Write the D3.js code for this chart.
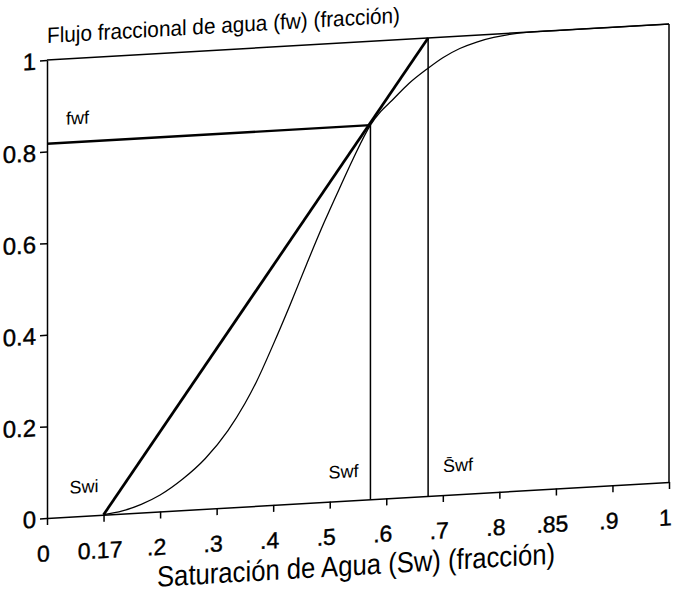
<!DOCTYPE html>
<html>
  <head>
    <meta charset="utf-8">
    <title>Flujo fraccional</title>
<style>
body { margin: 0; background: #fff; }
text { font-family: "Liberation Sans Narrow", "Arial Narrow", "Liberation Sans", sans-serif; fill: #000; }
.axis path, .axis line { stroke: #000; stroke-width: 1.5px; }
.curve { fill: none; stroke: #000; stroke-width: 1.3px; }
.thick { fill: none; stroke: #000; stroke-width: 2.8px; }
.thin { fill: none; stroke: #000; stroke-width: 1.5px; }
</style>
	<script src="https://d3js.org/d3.v7.min.js"></script>
  </head>
  <body>
	<script type="text/javascript">

		// tick values and labels (x axis is evenly spaced, labels are not)
		var xTicks = [0, 0.17, 0.2, 0.3, 0.4, 0.5, 0.6, 0.7, 0.8, 0.85, 0.9, 1];
		var xTickLabels = ["0", "0.17", ".2", ".3", ".4", ".5", ".6", ".7", ".8", ".85", ".9", "1"];
		var yTicks = [0, 0.2, 0.4, 0.6, 0.8, 1];
		var yTickLabels = ["0", "0.2", "0.4", "0.6", "0.8", "1"];

		// fractional flow curve fw(Sw)
		var sw = [0.17, 0.18, 0.19, 0.2, 0.24, 0.28, 0.32, 0.35, 0.37, 0.4, 0.43, 0.46, 0.49, 0.52, 0.54, 0.572, 0.59, 0.61, 0.64, 0.674, 0.7, 0.73, 0.76, 0.79, 0.83, 0.85, 0.9, 1];
		var fw = [0, 0.006, 0.018, 0.036, 0.068, 0.11, 0.168, 0.225, 0.27, 0.35, 0.435, 0.524, 0.61, 0.69, 0.742, 0.817, 0.845, 0.868, 0.903, 0.934, 0.955, 0.973, 0.985, 0.993, 1, 1, 1, 1];

		// Welge tangent points
		var swi = 0.17, swf = 0.572, swfBar = 0.674, fwf = 0.817;

		var W = 678, H = 597;
		var margin = {left: 47, top: 60},
			width = 622,
			height = 458;

		var step = width / (xTicks.length - 1);
		var x = d3.scaleLinear()
			.domain(xTicks)
			.range(xTicks.map(function(d, i) { return i * step; }));
		var y = d3.scaleLinear().domain([0, 1]).range([height, 0]);

		var svg = d3.select("body").append("svg")
			.attr("width", W)
			.attr("height", H);

		// the scanned original is sheared a little, reproduce that
		var g = svg.append("g")
			.attr("transform", "translate(" + margin.left + "," + margin.top + ") skewY(-3.31)");

		// frame: top and right
		g.append("line").attr("class", "thin")
			.attr("x1", x(0)).attr("x2", x(1)).attr("y1", y(1)).attr("y2", y(1));
		g.append("line").attr("class", "thin")
			.attr("x1", x(1)).attr("x2", x(1)).attr("y1", y(0)).attr("y2", y(1));

		// y axis
		g.append("g")
			.attr("class", "axis")
			.call(d3.axisLeft(y)
				.tickValues(yTicks)
				.tickSize(7)
				.tickSizeOuter(0)
				.tickPadding(4)
				.tickFormat(function(d, i) { return yTickLabels[i]; }))
			.call(function(s) {
				s.selectAll("text").style("font-size", "24px").attr("dy", "0.36em")
					.style("stroke", "#000").style("stroke-width", "0.4px");
			});

		// x axis
		g.append("g")
			.attr("class", "axis")
			.attr("transform", "translate(0," + height + ")")
			.call(d3.axisBottom(x)
				.tickValues(xTicks)
				.tickSize(7)
				.tickSizeOuter(0)
				.tickPadding(20)
				.tickFormat(function(d, i) { return xTickLabels[i]; }))
			.call(function(s) {
				s.selectAll("text").style("font-size", "23px").attr("dx", "-4")
					.style("stroke", "#000").style("stroke-width", "0.4px");
			});

		// curve
		var pts = sw.map(function(d, i) { return [d, fw[i]]; });
		g.append("path")
			.datum(pts)
			.attr("class", "curve")
			.attr("d", d3.line()
				.x(function(d) { return x(d[0]); })
				.y(function(d) { return y(d[1]); })
				.curve(d3.curveMonotoneX));

		// tangent line
		g.append("line").attr("class", "thick")
			.attr("x1", x(swi)).attr("y1", y(0))
			.attr("x2", x(swfBar)).attr("y2", y(1));

		// fwf horizontal and the two verticals
		g.append("line").attr("class", "thick").style("stroke-width", "2.4px")
			.attr("x1", x(0)).attr("x2", x(swf)).attr("y1", y(fwf)).attr("y2", y(fwf));
		g.append("line").attr("class", "thin")
			.attr("x1", x(swf)).attr("x2", x(swf)).attr("y1", y(0)).attr("y2", y(fwf));
		g.append("line").attr("class", "thin")
			.attr("x1", x(swfBar)).attr("x2", x(swfBar)).attr("y1", y(0)).attr("y2", y(1));

		// labels
		g.append("text").attr("x", x(swi) - 5).attr("y", y(0.05))
			.style("text-anchor", "end").style("font-size", "18px").text("Swi");
		g.append("text").attr("x", x(swf) - 12).attr("y", y(0.05))
			.style("text-anchor", "end").style("font-size", "18px").text("Swf");
		g.append("text").attr("x", x(swfBar) + 15).attr("y", y(0.05))
			.style("font-size", "18px").text("S\u0304wf");
		g.append("text").attr("x", 19).attr("y", y(fwf) - 18)
			.style("font-size", "18px").text("fwf");

		// titles
		g.append("text").attr("x", 0).attr("y", -17)
			.style("font-size", "22px")
			.attr("textLength", 353).attr("lengthAdjust", "spacingAndGlyphs")
			.text("Flujo fraccional de agua (fw) (fracción)");
		g.append("text").attr("x", 110).attr("y", height + 75)
			.style("font-size", "29px")
			.attr("textLength", 398).attr("lengthAdjust", "spacingAndGlyphs")
			.text("Saturación de Agua (Sw) (fracción)");

    </script>
  </body>
</html>
